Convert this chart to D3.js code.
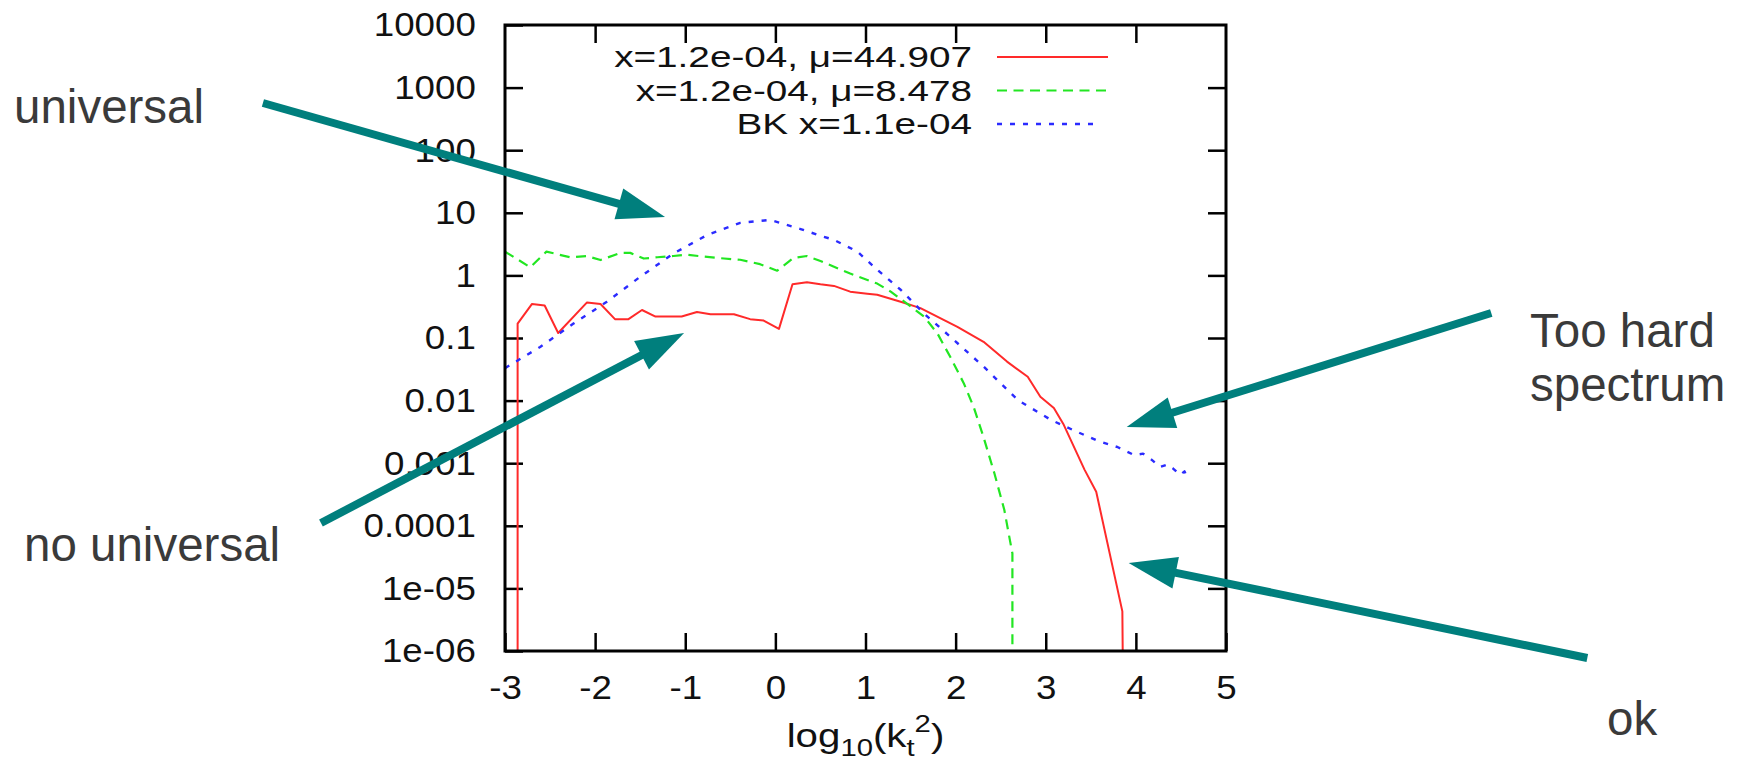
<!DOCTYPE html>
<html>
<head>
<meta charset="utf-8">
<script src="https://cdnjs.cloudflare.com/ajax/libs/d3/7.8.5/d3.min.js"></script>
<style>
  body { margin: 0; background: #fff; }
  svg { display: block; font-family: "Liberation Sans", Arial, sans-serif; }
</style>
</head>
<body>
<svg id="chart" width="1739" height="760"></svg>
<script>
// x = log10(kt^2), y = value (log axis).
const redSeries = [
  [-2.86, 1e-7], [-2.86, 0.17], [-2.70, 0.35], [-2.56, 0.33], [-2.41, 0.12],
  [-2.09, 0.37], [-1.94, 0.35], [-1.78, 0.20], [-1.63, 0.20], [-1.48, 0.28],
  [-1.33, 0.22], [-1.04, 0.22], [-0.87, 0.26], [-0.72, 0.24], [-0.46, 0.24],
  [-0.28, 0.20], [-0.13, 0.19], [0.04, 0.14], [0.19, 0.72], [0.35, 0.78],
  [0.50, 0.72], [0.65, 0.68], [0.83, 0.55], [1.02, 0.51], [1.13, 0.49],
  [1.39, 0.38], [1.61, 0.30], [2.02, 0.15], [2.31, 0.087], [2.57, 0.042],
  [2.80, 0.024], [2.94, 0.0115], [3.09, 0.0076], [3.20, 0.0041], [3.43, 0.00079],
  [3.56, 0.00035], [3.85, 4.3e-6], [3.86, 1e-7]
];
const greenSeries = [
  [-3.00, 2.4], [-2.72, 1.35], [-2.54, 2.4], [-2.28, 1.95], [-2.09, 2.04],
  [-1.94, 1.76], [-1.72, 2.29], [-1.61, 2.29], [-1.46, 1.86], [-1.31, 1.95],
  [-1.13, 2.04], [-0.98, 2.14], [-0.80, 2.0], [-0.57, 1.86], [-0.39, 1.78],
  [-0.17, 1.51], [0.02, 1.19], [0.20, 1.9], [0.35, 2.04], [0.50, 1.7],
  [0.83, 1.07], [1.13, 0.74], [1.28, 0.55], [1.46, 0.355], [1.65, 0.22],
  [1.80, 0.117], [1.94, 0.05], [2.09, 0.019], [2.20, 0.0079], [2.31, 0.0026],
  [2.43, 0.00069], [2.54, 0.00018], [2.63, 3.6e-5], [2.63, 1e-7]
];
const blueSeries = [
  [-3.00, 0.033], [-2.61, 0.072], [-2.24, 0.17], [-1.87, 0.38], [-1.50, 0.95],
  [-1.13, 2.24], [-0.76, 4.4], [-0.39, 6.9], [-0.06, 7.7], [0.28, 5.5],
  [0.50, 4.3], [0.65, 3.7], [0.91, 2.4], [1.13, 1.23], [1.39, 0.59],
  [1.65, 0.245], [1.94, 0.105], [2.31, 0.035], [2.69, 0.0102], [3.06, 0.0049],
  [3.30, 0.0034], [3.57, 0.0023], [3.80, 0.0018], [3.98, 0.00135], [4.08, 0.00142],
  [4.17, 0.00115], [4.27, 0.00087], [4.35, 0.00095], [4.41, 0.00083], [4.49, 0.00065],
  [4.54, 0.00074], [4.58, 0.00054]
];

const xTicks = [-3, -2, -1, 0, 1, 2, 3, 4, 5];
const yTicks = [1e-6, 1e-5, 1e-4, 1e-3, 1e-2, 1e-1, 1, 10, 100, 1000, 10000];
const yTickLabels = ["1e-06", "1e-05", "0.0001", "0.001", "0.01", "0.1", "1", "10", "100", "1000", "10000"];

const legendLabels = ["x=1.2e-04, \u03bc=44.907", "x=1.2e-04, \u03bc=8.478", "BK x=1.1e-04"];

// annotation arrows in data coordinates: [tailX, tailY, tipX, tipY]
const arrows = [
  [-5.686, 10 ** 2.754, -1.224, 10 ** 0.933],
  [-5.042, 10 ** -3.955, -1.013, 10 ** -0.920],
  [7.943, 10 ** -0.601, 3.898, 10 ** -2.422],
  [9.009, 10 ** -6.112, 3.920, 10 ** -4.594]
];
const notes = [
  { text: "universal", x: 14, y: 123 },
  { text: "no universal", x: 24, y: 561 },
  { text: "Too hard", x: 1530, y: 347 },
  { text: "spectrum", x: 1530, y: 401 },
  { text: "ok", x: 1607, y: 735 }
];

const PLOT = { left: 505, right: 1226, top: 25, bottom: 651 };
const TEAL = "#007f7d";
const TEXT_STRETCH = 1.08; // the original plot was stretched sideways

const svg = d3.select("#chart");

const x = d3.scaleLinear().domain([-3, 5]).range([PLOT.left, PLOT.right]);
const y = d3.scaleLog().domain([1e-6, 1e4]).range([PLOT.bottom, PLOT.top]);

svg.append("defs").append("clipPath").attr("id", "plot-clip")
  .append("rect")
  .attr("x", PLOT.left).attr("y", PLOT.top)
  .attr("width", PLOT.right - PLOT.left).attr("height", PLOT.bottom - PLOT.top);

// axes, gnuplot style: inward ticks, mirrored on top/right
const tickLen = 18;
const styleAxis = (g) => {
  g.select(".domain").remove();
  g.selectAll(".tick line").attr("stroke", "#000").attr("stroke-width", 2.5);
  g.selectAll(".tick text")
    .attr("fill", "#111")
    .attr("font-size", 34)
    .attr("transform", `scale(${TEXT_STRETCH},1)`);
};

svg.append("g")
  .attr("transform", `translate(0,${PLOT.bottom})`)
  .call(d3.axisBottom(x).tickValues(xTicks).tickSizeInner(-tickLen).tickSizeOuter(0).tickPadding(24)
    .tickFormat((d) => String(d)))
  .call(styleAxis);

svg.append("g")
  .attr("transform", `translate(0,${PLOT.top})`)
  .call(d3.axisTop(x).tickValues(xTicks.slice(1, -1)).tickSizeInner(-tickLen).tickSizeOuter(0).tickFormat(""))
  .call(styleAxis);

svg.append("g")
  .attr("transform", `translate(${PLOT.left},0)`)
  .call(d3.axisLeft(y).tickValues(yTicks).tickSizeInner(-tickLen).tickSizeOuter(0).tickPadding(27)
    .tickFormat((d, i) => yTickLabels[i]))
  .call(styleAxis);

svg.append("g")
  .attr("transform", `translate(${PLOT.right},0)`)
  .call(d3.axisRight(y).tickValues(yTicks.slice(1, -1)).tickSizeInner(-tickLen).tickSizeOuter(0).tickFormat(""))
  .call(styleAxis);

// x axis title: log10(kt^2)
const title = svg.append("text")
  .attr("transform", `translate(${(PLOT.left + PLOT.right) / 2},747) scale(1.22,1)`)
  .attr("text-anchor", "middle")
  .attr("font-size", 33)
  .attr("fill", "#111");
title.append("tspan").text("log");
title.append("tspan").attr("font-size", 24).attr("dy", 9).text("10");
title.append("tspan").attr("dy", -9).text("(k");
title.append("tspan").attr("font-size", 24).attr("dy", 9).text("t");
title.append("tspan").attr("font-size", 24).attr("dy", -24).text("2");
title.append("tspan").attr("dy", 15).text(")");

// series
const line = d3.line().x((d) => x(d[0])).y((d) => y(d[1]));
const series = [
  { data: redSeries, color: "#ff2a2a", dash: null, width: 2 },
  { data: greenSeries, color: "#22e622", dash: "10,6.5", width: 2.2 },
  { data: blueSeries, color: "#2b2bff", dash: "5,8", width: 2.4 }
];

const plot = svg.append("g").attr("clip-path", "url(#plot-clip)");
series.forEach((s) => {
  plot.append("path")
    .datum(s.data)
    .attr("d", line)
    .attr("fill", "none")
    .attr("stroke", s.color)
    .attr("stroke-width", s.width)
    .attr("stroke-dasharray", s.dash)
    .attr("stroke-linejoin", "round");
});

// legend
const legend = svg.append("g");
series.forEach((s, i) => {
  const ly = 57 + i * 33.5;
  legend.append("text")
    .attr("transform", `translate(972,${ly + 10}) scale(1.29,1)`)
    .attr("text-anchor", "end")
    .attr("font-size", 30)
    .attr("fill", "#111")
    .text(legendLabels[i]);
  legend.append("line")
    .attr("x1", 997).attr("x2", i === 2 ? 1100 : 1108)
    .attr("y1", ly).attr("y2", ly)
    .attr("stroke", s.color)
    .attr("stroke-width", s.width)
    .attr("stroke-dasharray", s.dash);
});

// frame
svg.append("rect")
  .attr("x", PLOT.left).attr("y", PLOT.top)
  .attr("width", PLOT.right - PLOT.left).attr("height", PLOT.bottom - PLOT.top)
  .attr("fill", "none").attr("stroke", "#000").attr("stroke-width", 3);

// annotation arrows
const HEAD_LEN = 48, HEAD_HALF = 16;
const ann = svg.append("g");
arrows.forEach(([x0, y0, x1, y1]) => {
  const tx = x(x0), ty = y(y0), hx = x(x1), hy = y(y1);
  const len = Math.hypot(hx - tx, hy - ty);
  const ux = (hx - tx) / len, uy = (hy - ty) / len;
  const bx = hx - ux * HEAD_LEN, by = hy - uy * HEAD_LEN;
  ann.append("line")
    .attr("x1", tx).attr("y1", ty).attr("x2", bx + ux * 2).attr("y2", by + uy * 2)
    .attr("stroke", TEAL).attr("stroke-width", 8);
  ann.append("path")
    .attr("d", `M${hx},${hy}L${bx - uy * HEAD_HALF},${by + ux * HEAD_HALF}L${bx + uy * HEAD_HALF},${by - ux * HEAD_HALF}Z`)
    .attr("fill", TEAL);
});

ann.selectAll(".note")
  .data(notes)
  .enter()
  .append("text")
  .attr("class", "note")
  .attr("x", (d) => d.x)
  .attr("y", (d) => d.y)
  .attr("font-size", 47.5)
  .attr("fill", "#3a3a3a")
  .text((d) => d.text);
</script>
</body>
</html>
